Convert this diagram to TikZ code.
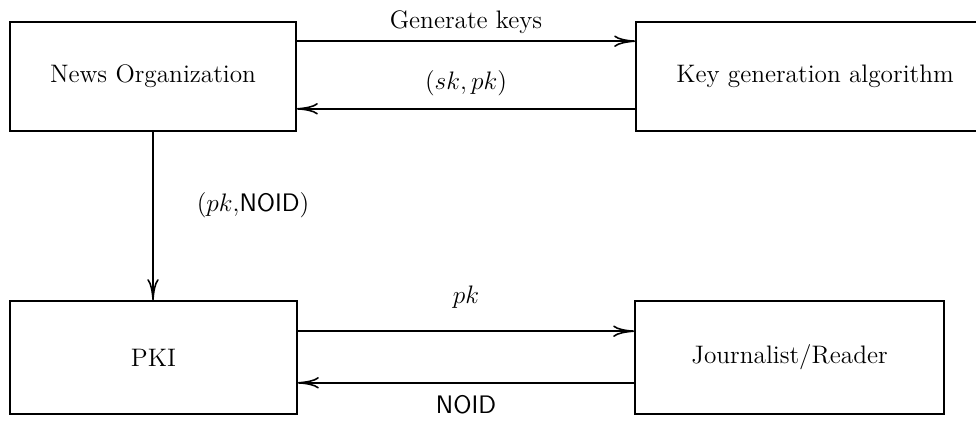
\documentclass[tikz,border=0pt,12pt]{standalone}
\usetikzlibrary{arrows.meta}

\tikzset{
	party/.style = {draw, line width=.9pt, inner sep=0pt, font=\large},
	msg/.style = {line width=.9pt, -{To[length=12pt,width=6.5pt]}},
	lbl/.style = {font=\large}
}

\begin{document}
\begin{tikzpicture}
	\useasboundingbox (0,0) rectangle (19.52,8.4);
	%the four parties
	\node[party, minimum width=5.72cm, minimum height=2.18cm] (news) at (3.06,6.87) {News Organization};
	\node[party, minimum width=7.16cm, minimum height=2.18cm] (keygen) at (16.3,6.87) {Key generation algorithm};
	\node[party, minimum width=5.74cm, minimum height=2.26cm] (pki) at (3.07,1.25) {PKI};
	\node[party, minimum width=6.18cm, minimum height=2.26cm] (reader) at (15.79,1.25) {Journalist/Reader};
	%key generation
	\draw[msg] ([yshift=-.4cm]news.north east) -- ([yshift=-.4cm]news.north east -| keygen.west)
		node[lbl, midway, above] {Generate keys};
	\draw[msg] ([yshift=.46cm]keygen.south west) -- ([yshift=.46cm]keygen.south west -| news.east)
		node[lbl, midway, above=.1cm] {$(sk,pk)$};
	%registration
	\draw[msg] (news.south) -- (news.south |- pki.north)
		node[lbl, midway, right=.72cm, yshift=.22cm] {$(pk,$\textsf{NOID}$)$};
	%lookup
	\draw[msg] ([yshift=-.62cm]pki.north east) -- ([yshift=-.62cm]pki.north east -| reader.west)
		node[lbl, midway, above=.3cm] {$pk$};
	\draw[msg] ([yshift=.64cm]reader.south west) -- ([yshift=.64cm]reader.south west -| pki.east)
		node[lbl, midway, below=.1cm] {\textsf{NOID}};
\end{tikzpicture}
\end{document}
